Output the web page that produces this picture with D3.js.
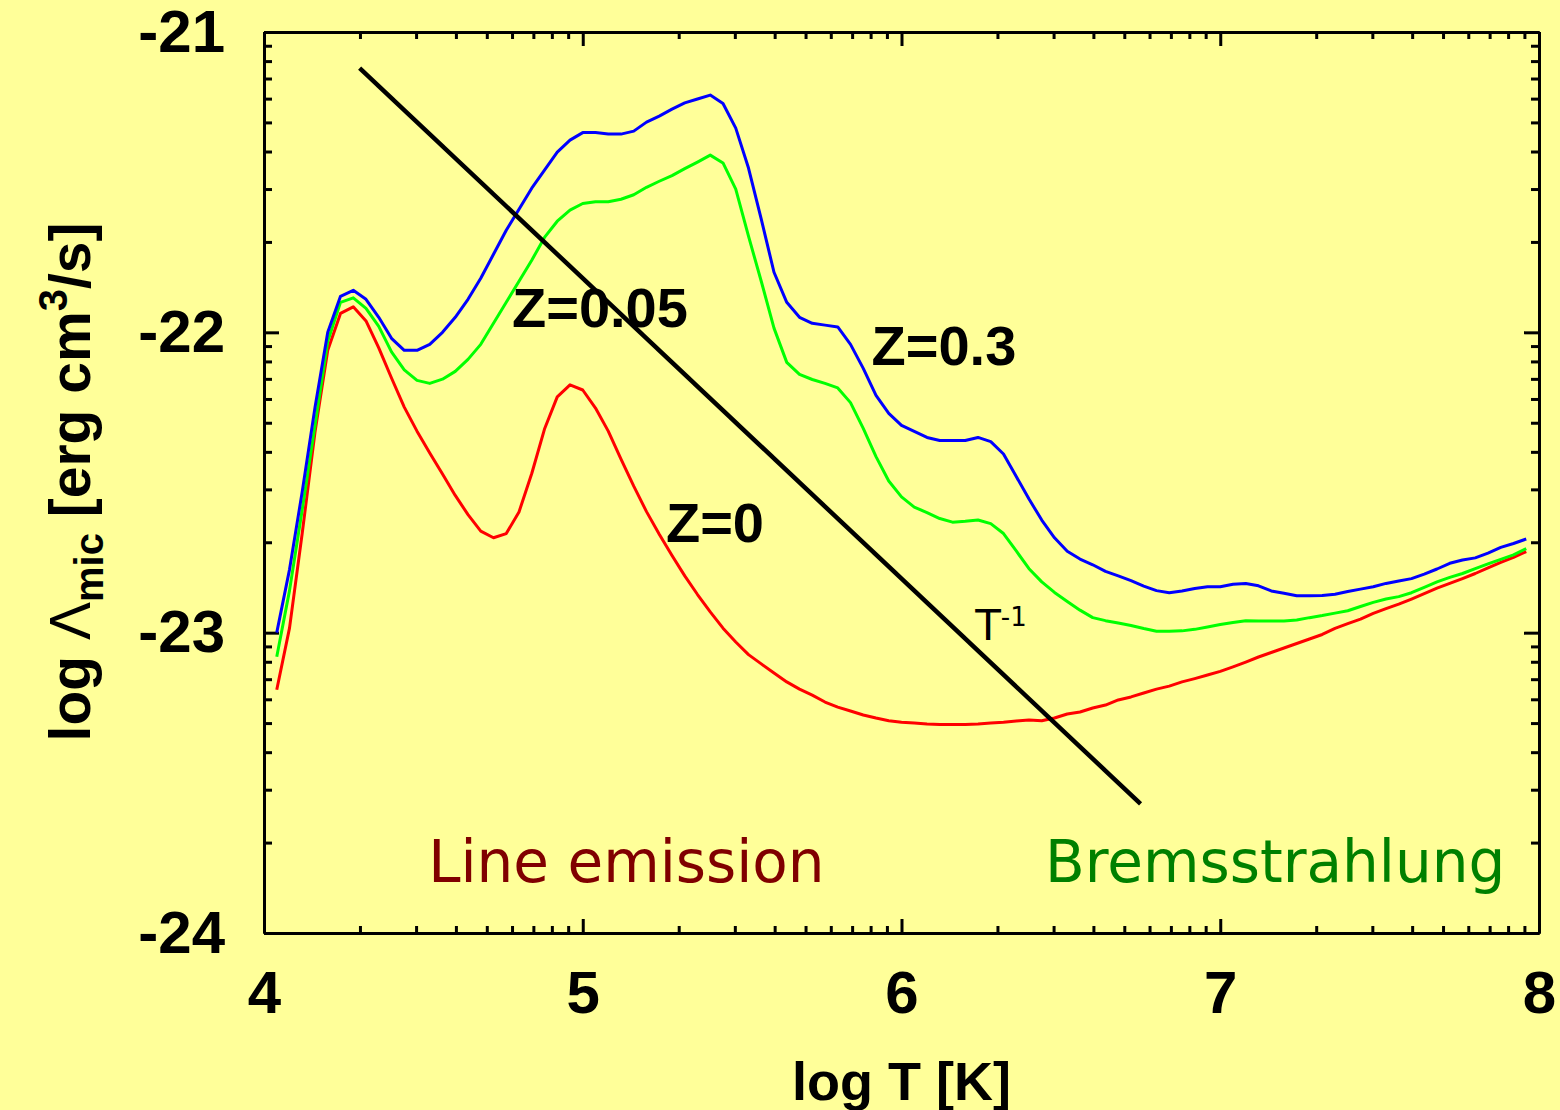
<!DOCTYPE html>
<html>
<head>
<meta charset="utf-8">
<script src="https://cdn.jsdelivr.net/npm/d3@7"></script>
<style>
body { margin:0; background:#ffff99; }
svg { display:block; }
</style>
</head>
<body>
<script>
// log T grid (K)
var logT = [4.04,4.08,4.12,4.16,4.20,4.24,4.28,4.32,4.36,4.40,
            4.44,4.48,4.52,4.56,4.60,4.64,4.68,4.72,4.76,4.80,
            4.84,4.88,4.92,4.96,5.00,5.04,5.08,5.12,5.16,5.20,
            5.24,5.28,5.32,5.36,5.40,5.44,5.48,5.52,5.56,5.60,
            5.64,5.68,5.72,5.76,5.80,5.84,5.88,5.92,5.96,6.00,
            6.04,6.08,6.12,6.16,6.20,6.24,6.28,6.32,6.36,6.40,
            6.44,6.48,6.52,6.56,6.60,6.64,6.68,6.72,6.76,6.80,
            6.84,6.88,6.92,6.96,7.00,7.04,7.08,7.12,7.16,7.20,
            7.24,7.28,7.32,7.36,7.40,7.44,7.48,7.52,7.56,7.60,
            7.64,7.68,7.72,7.76,7.80,7.84,7.88,7.92,7.96];

// log Lambda for Z=0.3 (blue)
var lamZ03 = [-23.00,-22.79,-22.53,-22.25,-22.00,-21.88,-21.86,-21.89,-21.95,-22.02,
              -22.06,-22.06,-22.04,-22.00,-21.95,-21.89,-21.82,-21.74,-21.66,-21.59,
              -21.52,-21.46,-21.40,-21.36,-21.335,-21.335,-21.34,-21.34,-21.33,-21.30,
              -21.28,-21.257,-21.236,-21.223,-21.21,-21.238,-21.32,-21.453,-21.623,-21.80,
              -21.90,-21.95,-21.97,-21.976,-21.982,-22.04,-22.12,-22.21,-22.27,-22.31,
              -22.33,-22.35,-22.36,-22.36,-22.36,-22.35,-22.364,-22.405,-22.48,-22.555,
              -22.625,-22.684,-22.729,-22.755,-22.774,-22.796,-22.811,-22.827,-22.845,-22.86,
              -22.867,-22.861,-22.853,-22.847,-22.847,-22.839,-22.836,-22.844,-22.861,-22.869,
              -22.877,-22.877,-22.876,-22.872,-22.863,-22.855,-22.847,-22.836,-22.828,-22.82,
              -22.805,-22.788,-22.769,-22.758,-22.751,-22.735,-22.716,-22.703,-22.688];

// log Lambda for Z=0.05 (green)
var lamZ005 = [-23.08,-22.86,-22.59,-22.31,-22.03,-21.90,-21.885,-21.92,-21.98,-22.065,
               -22.125,-22.16,-22.17,-22.156,-22.13,-22.09,-22.04,-21.97,-21.90,-21.83,
               -21.76,-21.684,-21.63,-21.593,-21.571,-21.565,-21.565,-21.557,-21.542,-21.517,
               -21.497,-21.478,-21.455,-21.433,-21.41,-21.436,-21.523,-21.68,-21.83,-21.986,
               -22.10,-22.14,-22.157,-22.17,-22.185,-22.234,-22.32,-22.414,-22.495,-22.548,
               -22.582,-22.60,-22.62,-22.632,-22.629,-22.625,-22.637,-22.67,-22.728,-22.787,
               -22.831,-22.866,-22.896,-22.925,-22.95,-22.96,-22.968,-22.976,-22.986,-22.995,
               -22.995,-22.994,-22.989,-22.981,-22.973,-22.966,-22.96,-22.961,-22.961,-22.961,
               -22.958,-22.95,-22.943,-22.935,-22.927,-22.913,-22.899,-22.888,-22.88,-22.867,
               -22.849,-22.831,-22.816,-22.803,-22.787,-22.771,-22.756,-22.741,-22.72];

// log Lambda for Z=0 (red)
var lamZ0 = [-23.19,-22.985,-22.668,-22.332,-22.06,-21.937,-21.915,-21.962,-22.052,-22.152,
             -22.249,-22.329,-22.402,-22.472,-22.543,-22.607,-22.662,-22.684,-22.67,-22.598,
             -22.47,-22.322,-22.215,-22.175,-22.192,-22.252,-22.329,-22.422,-22.512,-22.597,
             -22.672,-22.743,-22.811,-22.873,-22.931,-22.985,-23.031,-23.073,-23.104,-23.134,
             -23.164,-23.188,-23.208,-23.231,-23.248,-23.261,-23.274,-23.284,-23.293,-23.298,
             -23.301,-23.304,-23.306,-23.306,-23.306,-23.304,-23.301,-23.298,-23.294,-23.291,
             -23.293,-23.284,-23.271,-23.264,-23.251,-23.241,-23.224,-23.214,-23.201,-23.188,
             -23.178,-23.164,-23.153,-23.141,-23.129,-23.114,-23.098,-23.081,-23.066,-23.051,
             -23.036,-23.021,-23.006,-22.986,-22.97,-22.955,-22.936,-22.92,-22.905,-22.888,
             -22.87,-22.852,-22.836,-22.82,-22.803,-22.784,-22.766,-22.749,-22.73];

// T^-1 reference line
var tinvT = [4.30, 6.75];
var tinvLam = [-21.12, -23.57];

var xTicks = [4,5,6,7,8];
var yTicks = [-21,-22,-23,-24];

var W = 1560, H = 1110;
var bold = "'Liberation Sans', Arial, Helvetica, sans-serif";
var hand = "'Comic Sans MS', 'DejaVu Sans', sans-serif";

var svg = d3.select("body").append("svg")
            .attr("width", W)
            .attr("height", H);

svg.append("rect")
   .attr("width", W)
   .attr("height", H)
   .attr("fill", "#ffff99");

var x = d3.scaleLinear().domain([4,8]).range([264,1539]);
var y = d3.scaleLinear().domain([-24,-21]).range([933,32]);

// minor ticks at n + log10(k), like the original plot
var xMinor = [], yMinor = [];
[4,5,6,7].forEach(function(n){
  d3.range(2,10).forEach(function(k){ xMinor.push(n + Math.log10(k)); });
});
[-24,-23,-22].forEach(function(n){
  d3.range(2,10).forEach(function(k){ yMinor.push(n + Math.log10(k)); });
});

function styleAxis(g){
  g.selectAll("line").attr("stroke","#000").attr("stroke-width",3);
  g.selectAll(".domain").attr("stroke","#000").attr("stroke-width",3);
  g.selectAll("text")
   .attr("fill","#000")
   .style("font-family", bold)
   .style("font-weight","bold")
   .style("font-size","60px");
}

// bottom
svg.append("g")
   .attr("transform","translate(0,933)")
   .call(d3.axisBottom(x).tickValues(xTicks).tickSize(-14).tickSizeOuter(0)
           .tickPadding(37).tickFormat(function(d){ return String(d); }))
   .call(styleAxis);
svg.append("g")
   .attr("transform","translate(0,933)")
   .call(d3.axisBottom(x).tickValues(xMinor).tickSize(-7).tickSizeOuter(0).tickFormat(""))
   .call(styleAxis);
// top
svg.append("g")
   .attr("transform","translate(0,32)")
   .call(d3.axisTop(x).tickValues(xTicks).tickSize(-14).tickSizeOuter(0).tickFormat(""))
   .call(styleAxis);
svg.append("g")
   .attr("transform","translate(0,32)")
   .call(d3.axisTop(x).tickValues(xMinor).tickSize(-7).tickSizeOuter(0).tickFormat(""))
   .call(styleAxis);
// left
svg.append("g")
   .attr("transform","translate(264,0)")
   .call(d3.axisLeft(y).tickValues(yTicks).tickSize(-15).tickSizeOuter(0)
           .tickPadding(39).tickFormat(function(d){ return String(d); }))
   .call(styleAxis);
svg.append("g")
   .attr("transform","translate(264,0)")
   .call(d3.axisLeft(y).tickValues(yMinor).tickSize(-8).tickSizeOuter(0).tickFormat(""))
   .call(styleAxis);
// right
svg.append("g")
   .attr("transform","translate(1539,0)")
   .call(d3.axisRight(y).tickValues(yTicks).tickSize(-15).tickSizeOuter(0).tickFormat(""))
   .call(styleAxis);
svg.append("g")
   .attr("transform","translate(1539,0)")
   .call(d3.axisRight(y).tickValues(yMinor).tickSize(-8).tickSizeOuter(0).tickFormat(""))
   .call(styleAxis);

// curves
var line = d3.line()
             .x(function(d){ return x(d.t); })
             .y(function(d){ return y(d.v); });

var series = [
  {vals: lamZ0, color: "#ff0000"},
  {vals: lamZ005, color: "#00ff00"},
  {vals: lamZ03, color: "#0000ff"}
];
series.forEach(function(s){
  svg.append("path")
     .datum(logT.map(function(t,i){ return {t: t, v: s.vals[i]}; }))
     .attr("fill","none")
     .attr("stroke", s.color)
     .attr("stroke-width", 3)
     .attr("stroke-linejoin","round")
     .attr("d", line);
});

svg.append("path")
   .datum(tinvT.map(function(t,i){ return {t: t, v: tinvLam[i]}; }))
   .attr("fill","none")
   .attr("stroke","#000")
   .attr("stroke-width",4.5)
   .attr("d", line);

// annotations
function label(txt, t, v, size, family, color, weight){
  return svg.append("text")
     .attr("x", x(t))
     .attr("y", y(v))
     .attr("fill", color)
     .style("font-family", family)
     .style("font-size", size + "px")
     .style("font-weight", weight)
     .text(txt);
}
label("Z=0.05", 4.778, -21.982, 56, bold, "#000", "bold");
label("Z=0.3", 5.906, -22.109, 56, bold, "#000", "bold");
label("Z=0", 5.261, -22.697, 56, bold, "#000", "bold");
label("Line emission", 4.515, -23.83, 58, hand, "#800000", "normal");
label("Bremsstrahlung", 6.45, -23.83, 58, hand, "#008000", "normal");

var tl = label("T", 6.231, -23.024, 42, hand, "#000", "normal");
tl.append("tspan").attr("dy", -14).style("font-size","26px").text("-1");

// axis titles
svg.append("text")
   .attr("x", (x(4)+x(8))/2)
   .attr("y", 1100)
   .attr("text-anchor","middle")
   .style("font-family", bold)
   .style("font-weight","bold")
   .style("font-size","54px")
   .text("log T [K]");

var yt = svg.append("text")
   .attr("transform","translate(90,482) rotate(-90)")
   .attr("text-anchor","middle")
   .style("font-family", bold)
   .style("font-weight","bold")
   .style("font-size","57px");
yt.append("tspan").text("log ");
yt.append("tspan").style("font-weight","normal").text("\u039B");
yt.append("tspan").attr("dy", 13).style("font-size","40px").text("mic");
yt.append("tspan").attr("dy", -13).text(" [erg cm");
yt.append("tspan").attr("dy", -23).style("font-size","40px").text("3");
yt.append("tspan").attr("dy", 23).text("/s]");
</script>
</body>
</html>
